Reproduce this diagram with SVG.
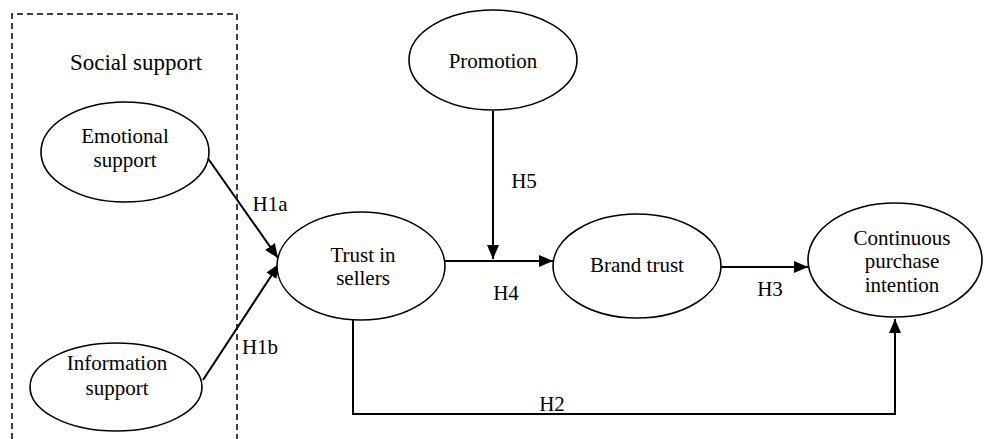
<svg xmlns="http://www.w3.org/2000/svg" width="984" height="439" viewBox="0 0 984 439">
<style>
  .node ellipse { fill: #fff; stroke: #000; stroke-width: 1.6; }
  text { font-family: "Liberation Serif", "Times New Roman", serif; font-size: 21px; fill: #000; text-anchor: middle; }
  .conn line, .conn path { stroke: #000; stroke-width: 2; fill: none; }
  .box { fill: none; stroke: #000; stroke-width: 1.5; stroke-dasharray: 6 4; }
</style>
<defs>
  <marker id="arr" markerUnits="userSpaceOnUse" markerWidth="14" markerHeight="12" refX="14" refY="6" orient="auto">
    <path d="M0,0 L14,6 L0,12 z" fill="#000"/>
  </marker>
</defs>
<rect width="984" height="439" fill="#fff"/>
<g id="social-support-group">
  <path class="box" d="M12,439 V14 H237 V439"/>
  <text x="136" y="70" style="font-size:23px">Social support</text>
</g>
<g class="conn" id="connectors">
  <line x1="207" y1="157" x2="278" y2="258" marker-end="url(#arr)"/>
  <line x1="203" y1="380" x2="279" y2="264" marker-end="url(#arr)"/>
  <line x1="445" y1="261" x2="553" y2="261" marker-end="url(#arr)"/>
  <line x1="493" y1="111" x2="493" y2="259" marker-end="url(#arr)"/>
  <line x1="721" y1="267" x2="808" y2="267" marker-end="url(#arr)"/>
  <path d="M353,318 V414 H895 V319" marker-end="url(#arr)"/>
  <text x="270" y="211">H1a</text>
  <text x="260" y="354">H1b</text>
  <text x="524" y="188">H5</text>
  <text x="506" y="300">H4</text>
  <text x="770" y="296">H3</text>
  <text x="552" y="411">H2</text>
</g>
<g class="node" id="emotional">
  <ellipse cx="125" cy="152" rx="84" ry="50"/>
  <text x="125" y="143">Emotional</text>
  <text x="125" y="167">support</text>
</g>
<g class="node" id="information">
  <ellipse cx="116" cy="387" rx="86" ry="44"/>
  <text x="117" y="370">Information</text>
  <text x="117" y="395">support</text>
</g>
<g class="node" id="trust-sellers">
  <ellipse cx="361" cy="266" rx="84" ry="54"/>
  <text x="363" y="262">Trust in</text>
  <text x="363" y="285">sellers</text>
</g>
<g class="node" id="promotion">
  <ellipse cx="493" cy="60" rx="84" ry="50"/>
  <text x="493" y="68">Promotion</text>
</g>
<g class="node" id="brand-trust">
  <ellipse cx="637" cy="266" rx="84" ry="52"/>
  <text x="637" y="272">Brand trust</text>
</g>
<g class="node" id="continuous">
  <ellipse cx="895" cy="260" rx="87" ry="57"/>
  <text x="902" y="245">Continuous</text>
  <text x="902" y="268">purchase</text>
  <text x="902" y="292">intention</text>
</g>
</svg>
